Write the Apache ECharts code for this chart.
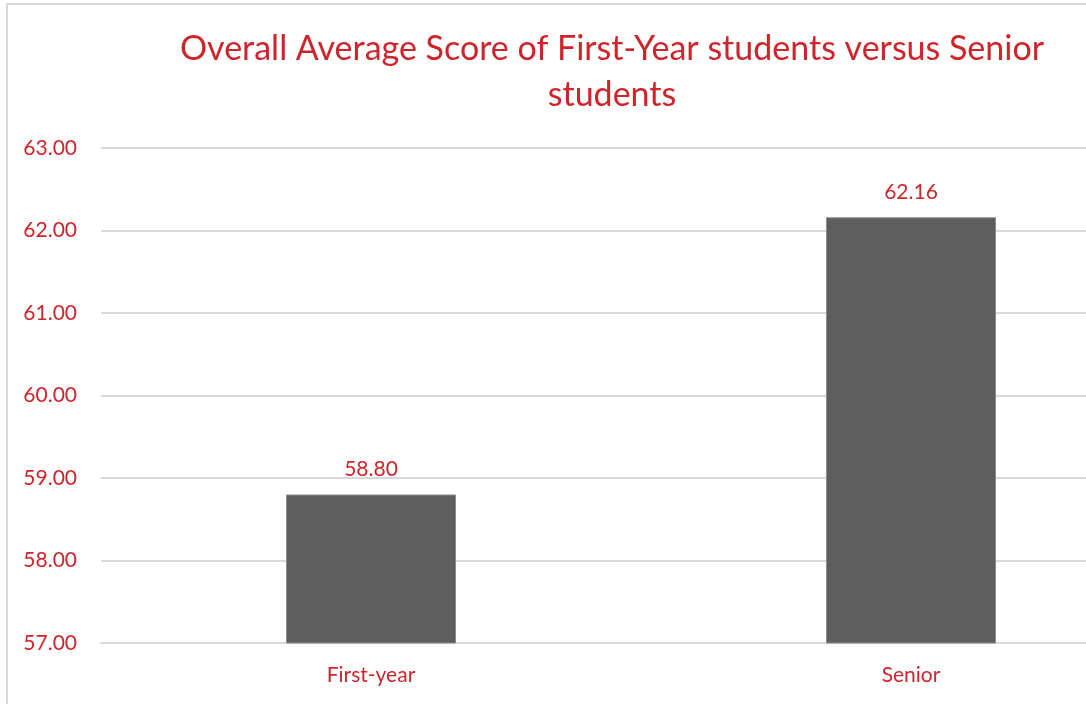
<!DOCTYPE html>
<html><head><meta charset="utf-8">
<script src="https://cdn.jsdelivr.net/npm/echarts@6/dist/echarts.min.js"></script>
<style>html,body{margin:0;padding:0;background:#fff}#c{width:1086px;height:704px}</style>
</head><body><div id="c"></div>
<script>
const categories = ['First-year', 'Senior'];
const scores = [58.80, 62.16];
const titleText = 'Overall Average Score of First-Year students versus Senior\nstudents';
const red = '#d0242c';
const font = 'Lato';
// the reference plot area runs past the right edge of the image:
// category slots of 540px starting at x=101, only 985px visible
const plotLeft = 101, slotPx = 540, visiblePx = 985;
const chart = echarts.init(document.getElementById('c'));
chart.setOption({
  animation: false,
  backgroundColor: '#fff',
  title: {
    text: titleText,
    left: 607, top: 21, textAlign: 'center',
    textStyle: { color: red, fontFamily: font, fontSize: 34, fontWeight: 'normal', lineHeight: 46 }
  },
  graphic: [{
    type: 'rect', shape: { x: 7, y: 4, width: 1200, height: 800 },
    style: { fill: 'none', stroke: '#d9d9d9', lineWidth: 2 }, silent: true
  }],
  grid: { left: plotLeft, top: 148, right: 0, bottom: 61 },
  xAxis: {
    type: 'value', min: -0.5, max: -0.5 + visiblePx / slotPx,
    axisLine: { show: true, onZero: false, lineStyle: { color: '#d9d9d9', width: 2 } },
    axisTick: { show: false },
    splitLine: { show: false },
    axisLabel: {
      customValues: categories.map((c, i) => i),
      color: red, fontFamily: font, fontSize: 21, margin: 22,
      formatter: v => categories[Math.round(v)] || ''
    }
  },
  yAxis: {
    type: 'value', min: 57, max: 63, interval: 1,
    axisLine: { show: false }, axisTick: { show: false },
    splitLine: { lineStyle: { color: '#d9d9d9', width: 2 } },
    axisLabel: { color: red, fontFamily: font, fontSize: 21, margin: 24, formatter: v => v.toFixed(2) }
  },
  series: [{
    type: 'bar', data: scores.map((s, i) => [i, s]), barWidth: 170,
    itemStyle: { color: '#5e5e5e', borderColor: '#8a8a8a', borderWidth: 1 },
    label: { show: true, position: 'top', distance: 15, color: red, fontFamily: font, fontSize: 21, formatter: p => p.value[1].toFixed(2) }
  }]
});
</script></body></html>
